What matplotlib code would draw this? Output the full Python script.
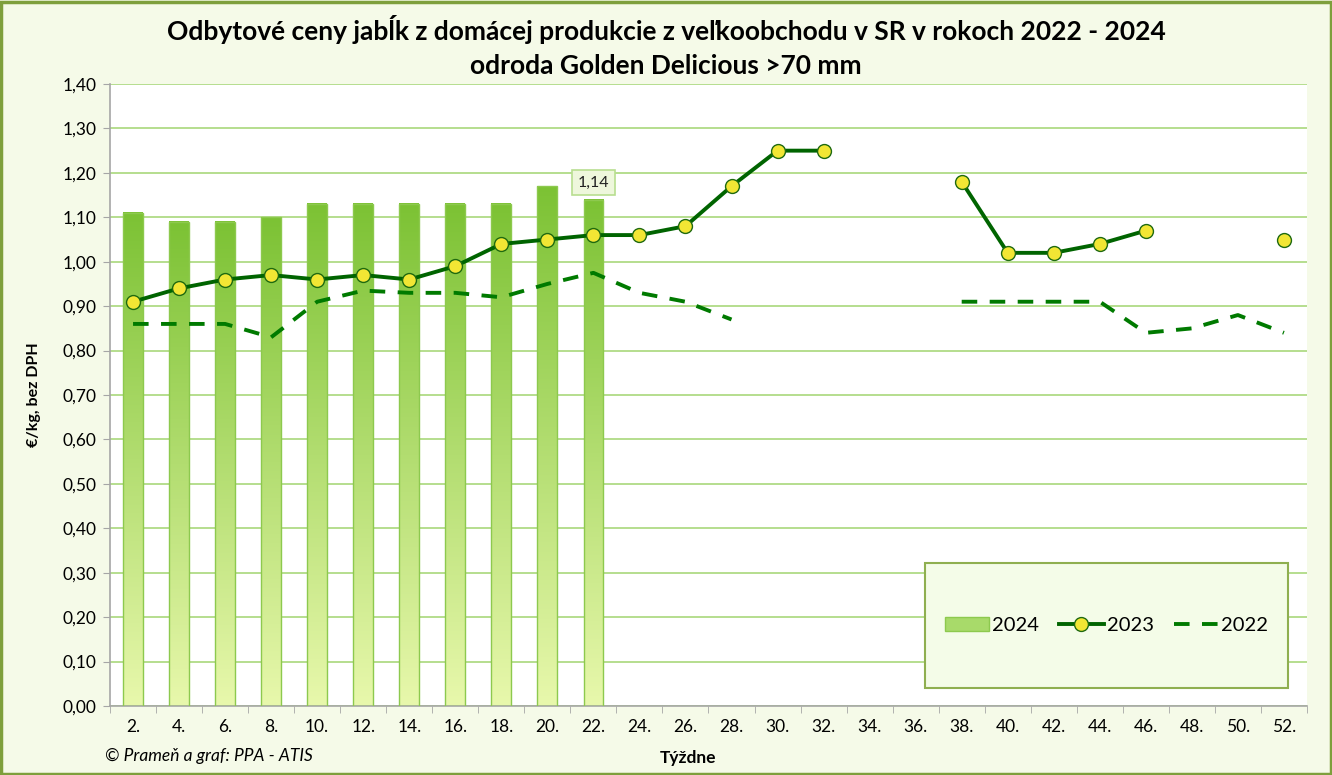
import numpy as np
import matplotlib.pyplot as plt
from matplotlib.patches import Rectangle, Patch
from matplotlib.lines import Line2D
from matplotlib.colors import LinearSegmentedColormap

plt.rcParams['font.family'] = ['Lato', 'DejaVu Sans']

weeks = ['2.', '4.', '6.', '8.', '10.', '12.', '14.', '16.', '18.', '20.', '22.', '24.', '26.',
         '28.', '30.', '32.', '34.', '36.', '38.', '40.', '42.', '44.', '46.', '48.', '50.', '52.']
nan = np.nan
y2024 = [1.11, 1.09, 1.09, 1.10, 1.13, 1.13, 1.13, 1.13, 1.13, 1.17, 1.14]
y2023 = [0.91, 0.94, 0.96, 0.97, 0.96, 0.97, 0.96, 0.99, 1.04, 1.05, 1.06, 1.06, 1.08,
         1.17, 1.25, 1.25, nan, nan, 1.18, 1.02, 1.02, 1.04, 1.07, nan, nan, 1.05]
y2022 = [0.86, 0.86, 0.86, 0.83, 0.91, 0.935, 0.93, 0.93, 0.92, 0.95, 0.975, 0.93, 0.91,
         0.87, nan, nan, nan, nan, 0.91, 0.91, 0.91, 0.91, 0.84, 0.85, 0.88, 0.84]

x = np.arange(len(weeks))

fig = plt.figure(figsize=(13.32, 7.75), dpi=100, facecolor='#F5FAE8')
fig.patches.append(Rectangle((0.001, 0.001), 0.998, 0.997, transform=fig.transFigure,
                             fill=False, edgecolor='#7E9F3C', linewidth=2.5))
ax = fig.add_axes([0.0826, 0.089, 0.8986, 0.8026])
ax.set_facecolor('white')

# gradient bars for 2024
cmap = LinearSegmentedColormap.from_list('g', ['#E8F8AC', '#7CC234'])
grad = np.linspace(0, 1, 256).reshape(-1, 1)
w = 0.43
bars = ax.bar(x[:len(y2024)], y2024, width=w, facecolor='none', edgecolor='#8DC94E',
              linewidth=1, zorder=3)
for b in bars:
    x0 = b.get_x()
    h = b.get_height()
    ax.imshow(grad, extent=[x0, x0 + w, 0, h], origin='lower', aspect='auto', cmap=cmap, zorder=2)

ax.plot(x, y2022, color='#007A00', lw=2.8, dashes=(4, 3.2), zorder=4)
ax.plot(x, y2023, color='#006400', lw=2.8, marker='o', markersize=10,
        markerfacecolor='#F2E634', markeredgecolor='#1F6A10', markeredgewidth=1, zorder=5)

# data label on last bar
ax.annotate('1,14', (x[len(y2024) - 1], y2024[-1]), xytext=(0, 7), textcoords='offset points',
            ha='center', va='bottom', fontsize=11.5, color='#222222', zorder=6,
            bbox=dict(boxstyle='square,pad=0.35', facecolor='#EEF7DC', edgecolor='#B8DE90', lw=1.2))

ax.set_xlim(-0.5, len(weeks) - 0.5)
ax.set_ylim(0, 1.4)
yt = np.round(np.arange(0, 1.41, 0.1), 2)
ax.set_yticks(yt)
ax.set_yticklabels([f'{v:.2f}'.replace('.', ',') for v in yt], fontsize=12.5)
ax.set_xticks(x)
ax.set_xticklabels(weeks, fontsize=12.5)
ax.set_xticks(np.arange(-0.5, len(weeks), 1), minor=True)
ax.tick_params(axis='x', which='major', length=0, pad=9)
ax.tick_params(axis='x', which='minor', length=5, color='#A6A6A6')
ax.tick_params(axis='y', length=5, color='#A6A6A6', pad=5)
ax.grid(axis='y', color='#B5DE8E', lw=1.4, zorder=0)
ax.set_axisbelow(True)
for s in ['top', 'right']:
    ax.spines[s].set_visible(False)
for s in ['left', 'bottom']:
    ax.spines[s].set_color('#A6A6A6')
    ax.spines[s].set_linewidth(1.2)

ax.set_ylabel('€/kg, bez DPH', fontsize=11.5, fontweight='bold')
ax.yaxis.set_label_coords(-0.058, 0.5)
fig.text(0.5165, 0.022, 'Týždne', ha='center', va='center', fontsize=12.5, fontweight='bold')
fig.text(0.079, 0.025, '© Prameň a graf: PPA - ATIS', ha='left', va='center', fontsize=12.5,
         style='italic')

fig.text(0.5, 0.962, 'Odbytové ceny jabĺk z domácej produkcie z veľkoobchodu v SR v rokoch 2022 - 2024',
         ha='center', va='center', fontsize=19, fontweight='bold')
fig.text(0.5, 0.915, 'odroda Golden Delicious >70 mm', ha='center', va='center',
         fontsize=19, fontweight='bold')

# legend box
ax.add_patch(Rectangle((0.681, 0.029), 0.303, 0.201, transform=ax.transAxes,
                       facecolor='#F4FCE8', edgecolor='#8FAF50', lw=1.5, zorder=6))
handles = [Patch(facecolor='#A8DA6A', edgecolor='#8DC94E'),
           Line2D([], [], color='#006400', lw=2.8, marker='o', markersize=10,
                  markerfacecolor='#F2E634', markeredgecolor='#1F6A10'),
           Line2D([], [], color='#007A00', lw=2.8, dashes=(4, 3.2))]
leg = ax.legend(handles, ['2024', '2023', '2022'], ncol=3, frameon=False, fontsize=14.5,
                loc='center', bbox_to_anchor=(0.681, 0.029, 0.303, 0.201),
                handlelength=2.2, handletextpad=0.15, columnspacing=1.0)
leg.set_zorder(7)

fig.savefig('out.png', dpi=100, facecolor=fig.get_facecolor())
